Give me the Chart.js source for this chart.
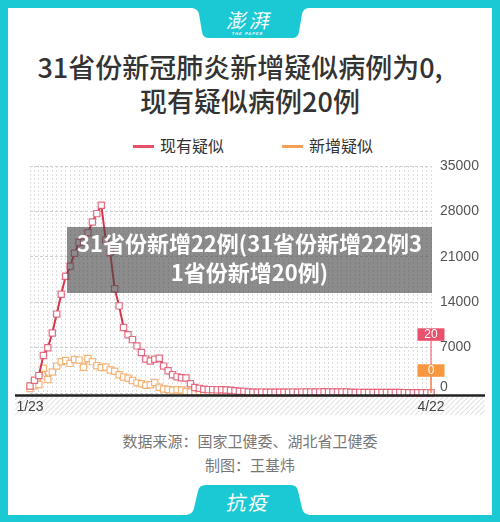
<!DOCTYPE html>
<html lang="zh-CN">
<head>
<meta charset="utf-8">
<title>31省份新冠肺炎新增疑似病例为0</title>
<script src="https://cdn.jsdelivr.net/npm/chart.js@4.4.1/dist/chart.umd.min.js"></script>
<style>
  html,body{margin:0;padding:0;}
  body{width:500px;height:522px;background:#1bc9d5;position:relative;overflow:hidden;
       font-family:"Noto Sans CJK SC","Noto Sans",sans-serif;}
  #card{position:absolute;left:8px;top:8px;width:484px;height:507px;background:#fff;}
  #tabs{position:absolute;left:0;top:0;}
  .logo{position:absolute;left:200px;width:100px;top:9px;text-align:center;color:#fff;
        font-size:20px;line-height:22px;letter-spacing:3px;transform:skewX(-12deg);}
  .logo small{display:block;font:bold 4px "Liberation Sans",sans-serif;letter-spacing:1px;line-height:5px;}
  .title{position:absolute;left:0;width:500px;top:50px;text-align:center;color:#333;
         font-size:27px;line-height:34px;font-weight:500;}
  .title span{padding-right:20px;}
  .legend{position:absolute;top:134px;height:22px;line-height:22px;font-size:16px;color:#333;}
  .legend i{display:inline-block;width:21px;height:3px;vertical-align:middle;margin-right:6px;position:relative;top:-1px;}
  #chart{position:absolute;left:0;top:150px;}
  .banner{position:absolute;left:67px;top:227px;width:365px;height:66px;background:rgba(70,70,70,0.62);
          color:#fff;font-size:22px;font-weight:700;line-height:29px;text-align:center;padding-top:1px;box-sizing:border-box;}
  .foot{position:absolute;left:0;width:500px;text-align:center;color:#777;font-size:15px;line-height:20px;}
  .tag{position:absolute;left:200px;width:98px;top:490px;text-align:center;color:#fff;font-size:20px;
       line-height:24px;transform:skewX(-10deg);letter-spacing:2px;}
</style>
</head>
<body>
<div id="card"></div>
<svg id="tabs" width="500" height="522">
  <path d="M192,8 L308,8 Q303,9 302,14 L299,32 Q298,38 292,38 L209,38 Q203,38 202,32 L199,14 Q198,9 192,8 Z" fill="#1bc9d5"/>
  <path d="M186,515 Q193,514 194,508 L198,491 Q199,485 206,485 L291,485 Q297,485 298,491 L302,508 Q303,514 310,515 Z" fill="#1bc9d5"/>
</svg>
<div class="logo">澎湃<small>THE PAPER</small></div>

<div class="title"><span>31省份新冠肺炎新增疑似病例为0,</span><br>现有疑似病例20例</div>

<div class="legend" style="left:133px"><i style="background:#e8506a"></i>现有疑似</div>
<div class="legend" style="left:282px"><i style="background:#f5a055"></i>新增疑似</div>

<canvas id="chart" width="500" height="280"></canvas>

<div class="banner">31省份新增22例(31省份新增22例3<br>1省份新增20例)</div>

<div class="foot" style="top:431px">数据来源：国家卫健委、湖北省卫健委</div>
<div class="foot" style="top:455px">制图：王基炜</div>
<div class="tag">抗疫</div>

<script>
// ---- Data (1/23 - 4/22) ----
const startDay = '2020-01-23';
const currentSuspected = [ // 现有疑似
  1072,1965,2684,5794,6973,9239,12167,15238,17988,
  19544,21558,23214,23260,24702,26359,27657,28942,23589,21675,16067,13435,10109,8969,8228,
  7264,6242,5248,4922,5206,5365,4148,3434,2824,2491,2358,2308,1418,851,
  715,587,520,522,482,502,458,421,349,285,253,147,115,113,134,128,119,105,104,106,118,136,
  132,134,153,136,141,135,184,157,165,
  153,153,142,111,91,95,89,81,84,75,70,72,78,72,69,61,54,43,34,24,21,20
];
const newSuspected = [ // 新增疑似
  680,1118,1309,3806,2077,3248,4148,4812,5019,
  4562,5173,5072,3971,5328,4833,4214,3916,4008,3536,3342,2807,2450,2277,1918,
  1563,1432,1185,1277,1614,882,620,530,439,508,452,248,141,132,
  129,143,143,139,102,99,102,60,36,31,33,33,45,39,41,45,21,23,45,39,47,44,
  55,58,47,65,52,48,63,48,52,
  36,38,27,30,36,36,36,39,52,30,28,33,25,21,18,20,12,9,13,4,7,0
];
const yTicks = [0,7000,14000,21000,28000,35000];
const xTickLabels = ['1/23','4/22'];

const days = [];
const d0 = new Date(startDay+'T00:00:00');
while (days.length < currentSuspected.length) {
  days.push((d0.getMonth()+1)+'/'+d0.getDate());
  d0.setDate(d0.getDate()+1);
}

// ---- Hatch pattern under the axis ----
function hatch(ctx){
  const c = document.createElement('canvas');
  c.width = 5; c.height = 5;
  const g = c.getContext('2d');
  g.strokeStyle = '#e3e3e3'; g.lineWidth = 1.2;
  g.beginPath(); g.moveTo(-1,6); g.lineTo(6,-1); g.stroke();
  return ctx.createPattern(c,'repeat');
}

// ---- Extra drawing: axis, labels, end tags ----
const decor = {
  id:'decor',
  beforeDatasetsDraw(chart){
    const {ctx, scales:{y}} = chart;
    const y0 = y.getPixelForValue(0);
    ctx.save();
    ctx.fillStyle = hatch(ctx);
    ctx.fillRect(15, y0+3.7, 470, 18.5);
    ctx.restore();
  },
  afterDraw(chart){
    const {ctx, chartArea, scales:{x,y}} = chart;
    const y0 = y.getPixelForValue(0);
    const last = days.length-1;
    const xl = x.getPixelForValue(last);
    ctx.save();
    // axis line
    ctx.strokeStyle = '#222'; ctx.lineWidth = 2.4;
    ctx.beginPath(); ctx.moveTo(15, y0+2.5); ctx.lineTo(485, y0+2.5); ctx.stroke();

    // y labels
    ctx.font = '14px "Liberation Sans", Arial, sans-serif';
    ctx.fillStyle = '#555'; ctx.textAlign = 'left'; ctx.textBaseline = 'middle';
    yTicks.forEach(v=>{
      const py = y.getPixelForValue(v) - (v===0 ? 6 : 0);
      ctx.fillText(String(v), chartArea.right+9, py);
    });

    // x labels
    ctx.fillStyle = '#444'; ctx.textAlign = 'center';
    ctx.fillText(xTickLabels[0], x.getPixelForValue(days.indexOf(xTickLabels[0])), y0+14);
    ctx.fillText(xTickLabels[1], x.getPixelForValue(days.indexOf(xTickLabels[1])), y0+14);

    // end tags
    const tags = [
      {v:currentSuspected[last], c:'#e9506c', top:y0-64.7},
      {v:newSuspected[last], c:'#f7973f', top:y0-28.7}
    ];
    tags.forEach(t=>{
      ctx.strokeStyle = t.c; ctx.lineWidth = 1;
      ctx.beginPath(); ctx.moveTo(xl, t.top+12); ctx.lineTo(xl, y.getPixelForValue(t.v)); ctx.stroke();
    });
    ctx.font = '12px "Liberation Sans", Arial, sans-serif';
    tags.forEach(t=>{
      ctx.fillStyle = t.c;
      ctx.fillRect(xl-13.5, t.top, 27, 12.5);
      ctx.fillStyle = '#fff';
      ctx.fillText(String(t.v), xl, t.top+6.7);
    });
    ctx.restore();
  }
};

// ---- Chart ----
new Chart(document.getElementById('chart').getContext('2d'), {
  type:'line',
  data:{
    labels:days,
    datasets:[
      { label:'现有疑似', data:currentSuspected, borderColor:'#d7354d', borderWidth:2,
        pointStyle:'rect', pointRadius:4.4, pointBorderWidth:1.2,
        pointBorderColor:'rgba(226,85,112,0.85)', pointBackgroundColor:'#fff', clip:false },
      { label:'新增疑似', data:newSuspected, borderColor:'#f2a65a', borderWidth:1.5,
        pointStyle:'rect', pointRadius:4.4, pointBorderWidth:1.2,
        pointBorderColor:'rgba(244,168,98,0.85)', pointBackgroundColor:'#fff', clip:false }
    ]
  },
  options:{
    responsive:false, animation:false, devicePixelRatio:1,
    layout:{ padding:{ left:30, right:69, top:16, bottom:37 } },
    plugins:{ legend:{display:false}, tooltip:{enabled:false} },
    elements:{ line:{ tension:0 } },
    scales:{
      x:{ type:'category', offset:false,
          grid:{ color:'#dedede', lineWidth:1, drawTicks:false, offset:false },
          border:{ display:false, dash:[2,2] },
          ticks:{ display:false, autoSkip:false } },
      y:{ position:'right', min:0, max:35000,
          afterBuildTicks:(s)=>{ s.ticks = yTicks.map(v=>({value:v})); },
          grid:{ color:'#cfcfcf', lineWidth:1, drawTicks:false },
          border:{ display:false, dash:[3,2] },
          ticks:{ display:false } }
    }
  },
  plugins:[decor]
});
</script>
</body>
</html>
